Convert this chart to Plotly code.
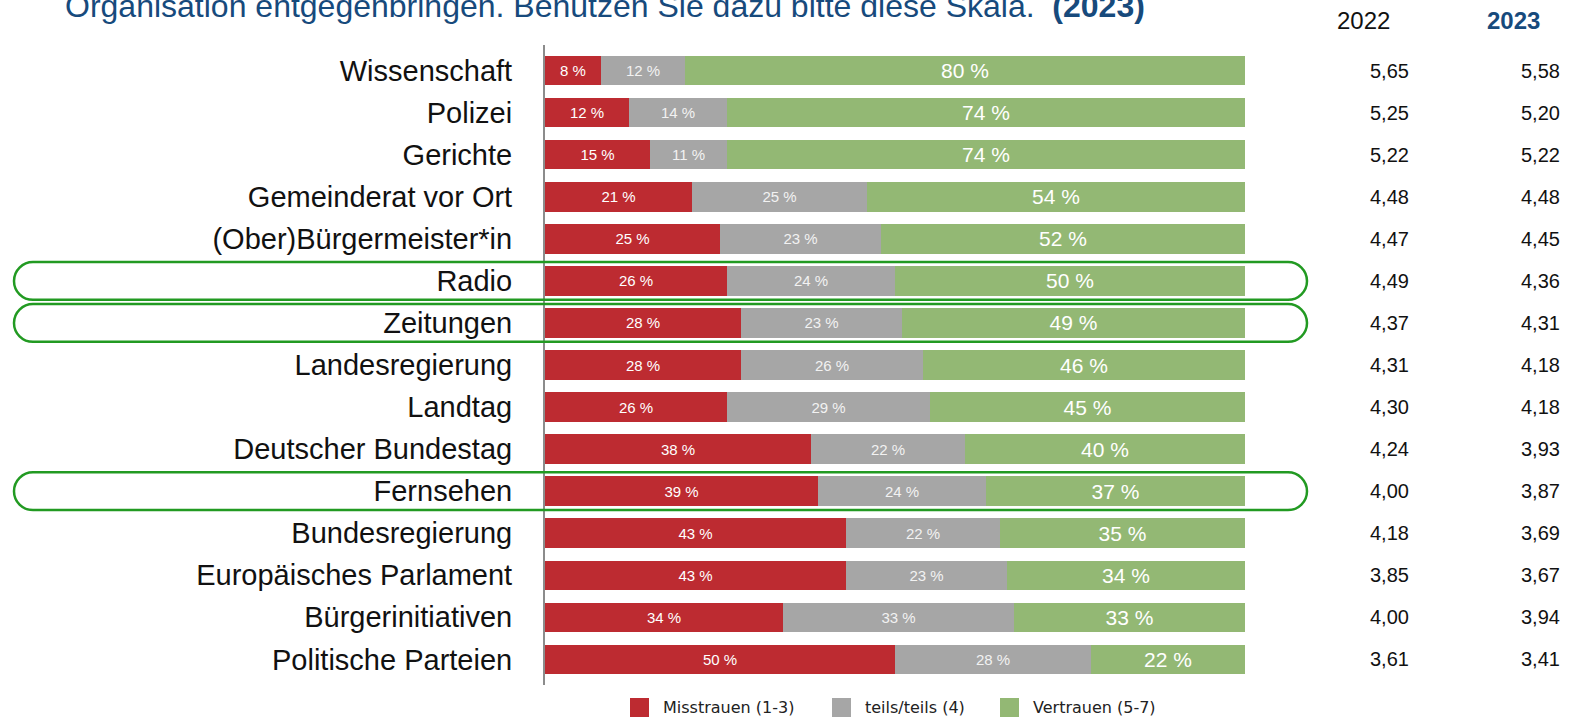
import plotly.graph_objects as go

# trust in institutions, shares in percent
categories = [
    "Wissenschaft", "Polizei", "Gerichte", "Gemeinderat vor Ort",
    "(Ober)Bürgermeister*in", "Radio", "Zeitungen", "Landesregierung",
    "Landtag", "Deutscher Bundestag", "Fernsehen", "Bundesregierung",
    "Europäisches Parlament", "Bürgerinitiativen", "Politische Parteien",
]
misstrauen = [8, 12, 15, 21, 25, 26, 28, 28, 26, 38, 39, 43, 43, 34, 50]
teils = [12, 14, 11, 25, 23, 24, 23, 26, 29, 22, 24, 22, 23, 33, 28]
vertrauen = [80, 74, 74, 54, 52, 50, 49, 46, 45, 40, 37, 35, 34, 33, 22]

# mean values on the 1-7 scale
mean_2022 = [5.65, 5.25, 5.22, 4.48, 4.47, 4.49, 4.37, 4.31, 4.30, 4.24, 4.00, 4.18, 3.85, 4.00, 3.61]
mean_2023 = [5.58, 5.20, 5.22, 4.48, 4.45, 4.36, 4.31, 4.18, 4.18, 3.93, 3.87, 3.69, 3.67, 3.94, 3.41]

highlighted = ["Radio", "Zeitungen", "Fernsehen"]

RED = "#bd2b31"
GREY = "#a6a6a6"
GREEN = "#93b874"
BLUE = "#174a7c"
FONT = "Liberation Sans, Arial, sans-serif"
NARROW = "Liberation Sans Narrow, Liberation Sans, Arial, sans-serif"

W, H = 1570, 717
M_L, M_R, M_T, M_B = 545, 325, 45, 32
PW = W - M_L - M_R
PH = H - M_T - M_B

rows = list(range(len(categories)))


def px_x(p):
    return (p - M_L) / PW


def px_y(p):
    return 1 + (M_T - p) / PH


fig = go.Figure()
series = [
    ("Misstrauen (1-3)", misstrauen, RED, 15, "white", 630),
    ("teils/teils (4)", teils, GREY, 15, "#f2f2f2", 832),
    ("Vertrauen (5-7)", vertrauen, GREEN, 21, "white", 1000),
]
for name, vals, color, size, tcolor, legend_px in series:
    fig.add_trace(go.Bar(
        x=vals,
        y=rows,
        orientation="h",
        name=name,
        marker=dict(color=color, line_width=0),
        text=[f"{v} %" for v in vals],
        textposition="inside",
        insidetextanchor="middle",
        textangle=0,
        constraintext="none",
        textfont=dict(family=NARROW if size < 18 else FONT, size=size, color=tcolor),
        hoverinfo="skip",
        showlegend=False,
    ))
    # legend drawn by hand so the swatches get the slide's size
    fig.add_shape(type="rect", xref="paper", yref="paper",
                  x0=px_x(legend_px), x1=px_x(legend_px + 19),
                  y0=px_y(698), y1=px_y(717),
                  fillcolor=color, line_width=0)
    fig.add_annotation(x=px_x(legend_px + 31), xref="paper", xanchor="left",
                       y=px_y(707), yref="paper", yanchor="middle",
                       text=name, showarrow=False,
                       font=dict(family="DejaVu Sans, sans-serif", size=16, color="#222222"))

# right-hand columns with mean values
col22, col23 = px_x(1389), px_x(1540)
for i in rows:
    for xc, vals in ((col22, mean_2022), (col23, mean_2023)):
        fig.add_annotation(
            x=xc, xref="paper", y=i, yref="y", yanchor="middle",
            text=f"{vals[i]:.2f}".replace(".", ","),
            showarrow=False, xanchor="center",
            font=dict(family=FONT, size=20, color="#111111"),
        )

fig.add_annotation(x=px_x(1392), xref="paper", y=px_y(21), yref="paper",
                   yanchor="middle", text="2022", showarrow=False,
                   font=dict(family=FONT, size=24, color="#111111"))
fig.add_annotation(x=px_x(1542), xref="paper", y=px_y(21), yref="paper",
                   yanchor="middle", text="<b>2023</b>", showarrow=False,
                   font=dict(family=FONT, size=24, color=BLUE))

# title, cut at the top edge as in the source slide
fig.add_annotation(
    x=px_x(63), xref="paper", xanchor="left",
    y=px_y(6), yref="paper", yanchor="middle",
    text="Organisation entgegenbringen. Benutzen Sie dazu bitte diese Skala.\u00a0\u00a0<b>(2023)</b>",
    showarrow=False,
    font=dict(family=FONT, size=32, color=BLUE),
)

# rounded frames around the media rows
x0, x1 = px_x(14), px_x(1307)
rx = 19 / PW
half = 0.45
k = 0.5523
for name in highlighted:
    i = categories.index(name)
    t, b = i - half, i + half
    ry = half
    path = (
        f"M {x0 + rx},{t} L {x1 - rx},{t} "
        f"C {x1 - rx + k * rx},{t} {x1},{i - k * ry} {x1},{i} "
        f"C {x1},{i + k * ry} {x1 - rx + k * rx},{b} {x1 - rx},{b} "
        f"L {x0 + rx},{b} "
        f"C {x0 + rx - k * rx},{b} {x0},{i + k * ry} {x0},{i} "
        f"C {x0},{i - k * ry} {x0 + rx - k * rx},{t} {x0 + rx},{t} Z"
    )
    fig.add_shape(type="path", path=path, xref="paper", yref="y",
                  line=dict(color="#229a22", width=2.5), layer="above")

fig.update_layout(
    width=W,
    height=H,
    barmode="stack",
    bargap=0.3,
    plot_bgcolor="white",
    paper_bgcolor="white",
    margin=dict(l=M_L, r=M_R, t=M_T, b=M_B, pad=0),
    font=dict(family=FONT, color="#111111"),
    showlegend=False,
    xaxis=dict(range=[0, 100], visible=False, fixedrange=True),
    yaxis=dict(
        range=[14.61, -0.61],
        tickmode="array",
        tickvals=rows,
        ticktext=categories,
        showgrid=False,
        zeroline=False,
        showline=True,
        linecolor="#8c8c8c",
        linewidth=2,
        ticks="",
        ticklabelstandoff=25,
        tickfont=dict(family=FONT, size=29, color="#111111"),
    ),
)

fig.write_html(
    "out.html",
    config={"displayModeBar": False},
    post_script="document.body.style.margin='0';document.body.style.overflow='hidden';",
)
